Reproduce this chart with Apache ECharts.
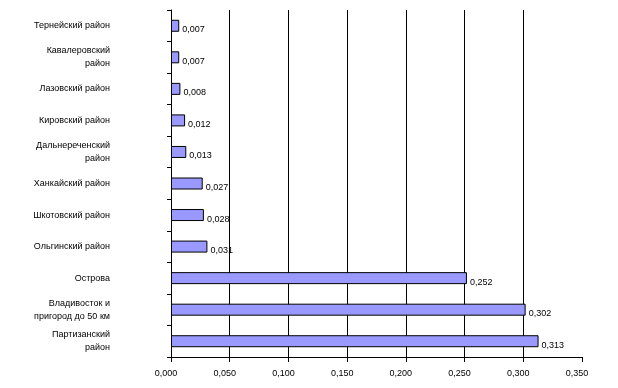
<!DOCTYPE html>
<html><head><meta charset="utf-8">
<script src="https://cdn.jsdelivr.net/npm/echarts@6/dist/echarts.min.js"></script>
<style>html,body{margin:0;padding:0;background:#fff}#c{width:618px;height:388px}</style>
</head><body><div id="c"></div>
<script>
const categories = [
  'Тернейский район',
  'Кавалеровский\nрайон',
  'Лазовский район',
  'Кировский район',
  'Дальнереченский\nрайон',
  'Ханкайский район',
  'Шкотовский район',
  'Ольгинский район',
  'Острова',
  'Владивосток и\nпригород до 50 км',
  'Партизанский\nрайон'
];
const values = [0.007, 0.007, 0.008, 0.012, 0.013, 0.027, 0.028, 0.031, 0.252, 0.302, 0.313];
const xTicks = { min: 0, max: 0.35, interval: 0.05 };

const fmt = v => v.toFixed(3).replace('.', ',');
const chart = echarts.init(document.getElementById('c'), null, { renderer: 'canvas' });
const font = 'Liberation Sans, Arial, sans-serif';
chart.setOption({
  animation: false,
  backgroundColor: '#fff',
  grid: { left: 171, right: 36, top: 10, bottom: 31, containLabel: false },
  xAxis: {
    type: 'value', min: xTicks.min, max: xTicks.max, interval: xTicks.interval,
    axisLine: { show: true, lineStyle: { color: '#000', width: 1 } },
    axisTick: { show: true, length: 5, lineStyle: { color: '#000' } },
    axisLabel: { formatter: fmt, color: '#000', fontSize: 9, fontFamily: font, margin: 12, padding: [0, 10, 0, 0] },
    splitLine: { show: true, showMinLine: false, showMaxLine: false, lineStyle: { color: '#000', width: 1 } }
  },
  yAxis: {
    type: 'category', data: categories, inverse: true,
    axisLine: { show: true, lineStyle: { color: '#000', width: 1 } },
    axisTick: { show: true, length: 4, lineStyle: { color: '#000' } },
    axisLabel: { color: '#000', fontSize: 9, fontFamily: font, margin: 61, align: 'right', lineHeight: 13, interval: 0 }
  },
  series: [{
    type: 'bar', data: values, barWidth: 12,
    itemStyle: { color: '#9999ff', borderColor: '#000', borderWidth: 1 },
    label: { show: true, position: 'right', distance: 3, offset: [0, 4], formatter: p => fmt(p.value), color: '#000', fontSize: 9, fontFamily: font }
  }]
});
</script></body></html>
